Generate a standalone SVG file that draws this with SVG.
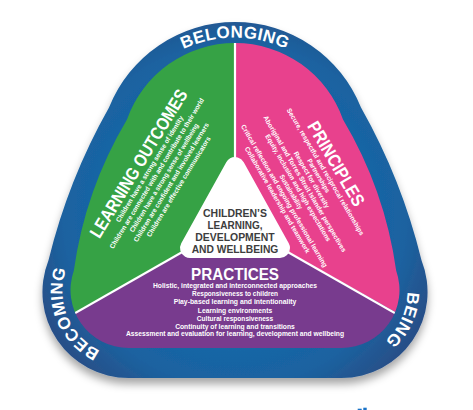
<svg xmlns="http://www.w3.org/2000/svg" width="473" height="410" viewBox="0 0 473 410">
<defs>
<style>
.t{font-family:"Liberation Sans",Arial,sans-serif;font-weight:bold;fill:#fff}
.ring{font-size:17px;letter-spacing:0.4px}
.ttl{font-size:18px}
.li{font-size:6.8px}
.ctr{font-size:11.5px;fill:#3d3d3d}
.div{stroke:#fff;stroke-width:2.2;fill:none}
</style>
<radialGradient id="blue" cx="235" cy="215" r="215" gradientUnits="userSpaceOnUse">
<stop offset="0.55" stop-color="#1668a8"/>
<stop offset="0.8" stop-color="#1b62a0"/>
<stop offset="1" stop-color="#284f88"/>
</radialGradient>
<filter id="sh" x="-10%" y="-10%" width="120%" height="130%">
<feGaussianBlur in="SourceAlpha" stdDeviation="4"/>
<feOffset dy="6" result="b"/>
<feFlood flood-color="#000" flood-opacity="0.35"/>
<feComposite in2="b" operator="in"/>
<feMerge><feMergeNode/><feMergeNode in="SourceGraphic"/></feMerge>
</filter>
<clipPath id="inner"><path d="M127,119.5 A114.5,114.5 0 0 1 343,119.5 A405,405 0 0 1 396.2,270.75 A58,58 0 0 1 341.5,348 L128.5,348 A58,58 0 0 1 73.8,270.75 A405,405 0 0 1 127,119.5 Z"/></clipPath>
<path id="pBel" d="M131.1,97.5 A120,120 0 0 1 338.9,97.5"/>
<path id="pBec" d="M117,356 A66,66 0 0 1 74.4,253.1"/>
<path id="pBei" d="M395.6,253.1 A66,66 0 0 1 347.3,356.7"/>
</defs>

<g id="ring">
<path d="M109,107.6 A135.5,135.5 0 0 1 361,107.6 A600,600 0 0 1 421.5,260.3 A86,86 0 0 1 341.5,378 L128.5,378 A86,86 0 0 1 48.5,260.3 A600,600 0 0 1 109,107.6 Z" fill="url(#blue)" filter="url(#sh)"/>
<text class="t ring" text-anchor="middle"><textPath href="#pBel" startOffset="50%">BELONGING</textPath></text>
<text class="t ring" text-anchor="middle"><textPath href="#pBec" startOffset="50%">BECOMING</textPath></text>
<text class="t ring" text-anchor="middle"><textPath href="#pBei" startOffset="50%">BEING</textPath></text>
</g>

<g clip-path="url(#inner)">
<g id="outcomes"><polygon points="235,222 235,0 0,0 0,355.9" fill="#36a245"/></g>
<g id="principles"><polygon points="235,222 235,0 473,0 473,355.9" fill="#e8418d"/></g>
<g id="practices"><polygon points="235,222 0,355.9 0,410 473,410 473,355.9" fill="#783b8e"/></g>
<g id="connectors">
<line class="div" x1="235" y1="222" x2="235" y2="30"/>
<line class="div" x1="235" y1="222" x2="60" y2="321.7"/>
<line class="div" x1="235" y1="222" x2="410" y2="321.7"/>
</g>
</g>

<g id="outcomes-text" transform="translate(138.3,163.3) rotate(-58.6)">
<text class="t ttl" x="0" y="6.5" text-anchor="middle" textLength="170" lengthAdjust="spacingAndGlyphs">LEARNING OUTCOMES</text>
<g class="t li" text-anchor="middle">
<text x="1" y="14.9" textLength="123" lengthAdjust="spacingAndGlyphs">Children have a strong sense of identity</text>
<text x="1" y="23.4" textLength="175" lengthAdjust="spacingAndGlyphs">Children are connected with and contribute to their world</text>
<text x="1" y="31.9" textLength="126" lengthAdjust="spacingAndGlyphs">Children have a strong sense of wellbeing</text>
<text x="1" y="40.4" textLength="138" lengthAdjust="spacingAndGlyphs">Children are confident and involved learners</text>
<text x="1" y="48.9" textLength="116" lengthAdjust="spacingAndGlyphs">Children are effective communicators</text>
</g>
</g>

<g id="principles-text" transform="translate(336.5,163.5) rotate(59.6)">
<text class="t ttl" x="0" y="6.5" text-anchor="middle" textLength="95" lengthAdjust="spacingAndGlyphs">PRINCIPLES</text>
<g class="t li" text-anchor="middle">
<text x="1.5" y="16" textLength="146" lengthAdjust="spacingAndGlyphs">Secure, respectful and reciprocal relationships</text>
<text x="1.5" y="24" textLength="38" lengthAdjust="spacingAndGlyphs">Partnerships</text>
<text x="1.5" y="31.9" textLength="64" lengthAdjust="spacingAndGlyphs">Respect for diversity</text>
<text x="1.5" y="39.9" textLength="157" lengthAdjust="spacingAndGlyphs">Aboriginal and Torres Strait Islander perspectives</text>
<text x="1.5" y="47.8" textLength="123" lengthAdjust="spacingAndGlyphs">Equity, inclusion and high expectations</text>
<text x="1.5" y="55.8" textLength="39" lengthAdjust="spacingAndGlyphs">Sustainability</text>
<text x="1.5" y="63.7" textLength="164" lengthAdjust="spacingAndGlyphs">Critical reflection and ongoing professional learning</text>
<text x="1.5" y="71.7" textLength="122" lengthAdjust="spacingAndGlyphs">Collaborative leadership and teamwork</text>
</g>
</g>

<g id="practices-text">
<text class="t" x="235" y="280" font-size="16.5" text-anchor="middle" textLength="88" lengthAdjust="spacingAndGlyphs">PRACTICES</text>
<g class="t li" text-anchor="middle">
<text x="235" y="288" textLength="164" lengthAdjust="spacingAndGlyphs">Holistic, integrated and interconnected approaches</text>
<text x="235" y="296" textLength="86" lengthAdjust="spacingAndGlyphs">Responsiveness to children</text>
<text x="235" y="304.3" textLength="122.7" lengthAdjust="spacingAndGlyphs">Play-based learning and intentionality</text>
<text x="235" y="312.6" textLength="74.3" lengthAdjust="spacingAndGlyphs">Learning environments</text>
<text x="235" y="320.6" textLength="76.3" lengthAdjust="spacingAndGlyphs">Cultural responsiveness</text>
<text x="235" y="328.6" textLength="119.7" lengthAdjust="spacingAndGlyphs">Continuity of learning and transitions</text>
<text x="235" y="336.3" textLength="218" lengthAdjust="spacingAndGlyphs">Assessment and evaluation for learning, development and wellbeing</text>
</g>
</g>

<g id="center">
<polygon points="235,167 190,248 280,248" fill="#fff" stroke="#fff" stroke-width="20" stroke-linejoin="round"/>
<g class="t ctr" text-anchor="middle">
<text x="235" y="216.5" textLength="64" lengthAdjust="spacingAndGlyphs">CHILDREN’S</text>
<text x="235" y="228.5" textLength="55" lengthAdjust="spacingAndGlyphs">LEARNING,</text>
<text x="235" y="240.5" textLength="79.3" lengthAdjust="spacingAndGlyphs">DEVELOPMENT</text>
<text x="235" y="252.5" textLength="86.7" lengthAdjust="spacingAndGlyphs">AND WELLBEING</text>
</g>
</g>

<g id="fragment" fill="#1a73c8">
<rect x="357.7" y="408.7" width="4" height="1.3"/>
<rect x="363.3" y="407.7" width="3.4" height="2.3"/>
</g>
</svg>
